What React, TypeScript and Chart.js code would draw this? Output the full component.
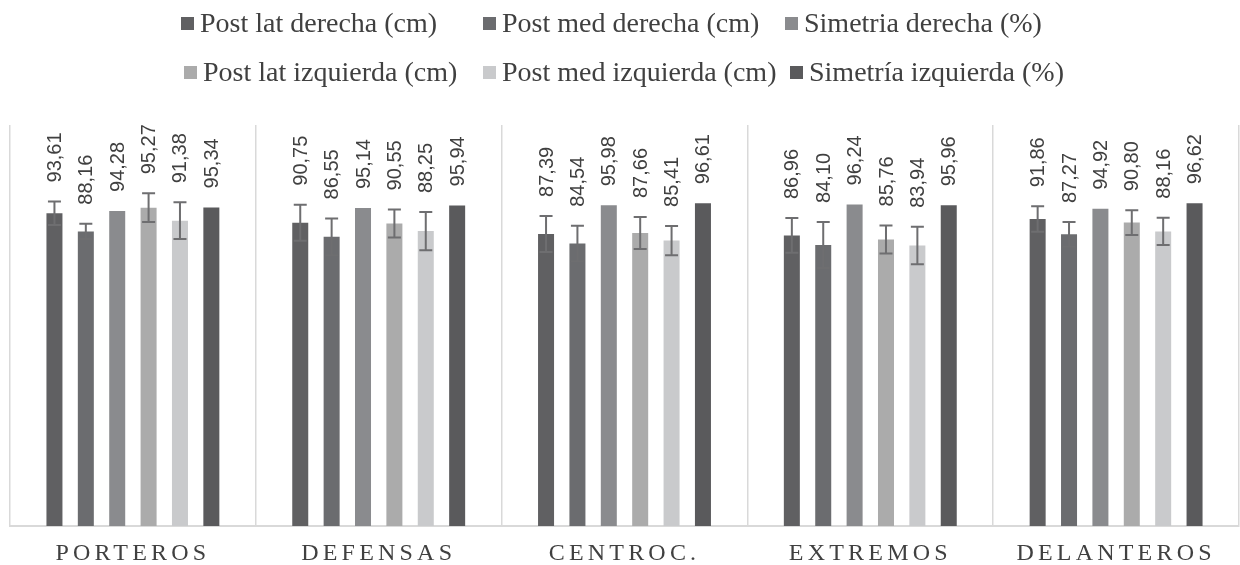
import React, { useEffect, useRef } from 'react';
import { Chart, registerables } from 'chart.js';

Chart.register(...registerables);

const categories = ['PORTEROS', 'DEFENSAS', 'CENTROC.', 'EXTREMOS', 'DELANTEROS'];
const seriesNames = [
  'Post lat derecha (cm)',
  'Post med derecha (cm)',
  'Simetria derecha (%)',
  'Post lat izquierda (cm)',
  'Post med izquierda (cm)',
  'Simetría izquierda (%)',
];
const seriesColors = ['#606062', '#6b6c6f', '#8a8b8e', '#ababab', '#c9cacc', '#5a5a5c'];

const postLatDerecha = [93.61, 90.75, 87.39, 86.96, 91.86];
const postMedDerecha = [88.16, 86.55, 84.54, 84.1, 87.27];
const simetriaDerecha = [94.28, 95.14, 95.98, 96.24, 94.92];
const postLatIzquierda = [95.27, 90.55, 87.66, 85.76, 90.8];
const postMedIzquierda = [91.38, 88.25, 85.41, 83.94, 88.16];
const simetriaIzquierda = [95.34, 95.94, 96.61, 95.96, 96.62];

const errPostLatDerecha = [3.5, 5.4, 5.4, 5.2, 3.8];
const errPostMedDerecha = [2.3, 5.5, 5.3, 6.9, 3.7];
const errPostLatIzquierda = [4.3, 4.2, 4.8, 4.2, 3.7];
const errPostMedIzquierda = [5.5, 5.7, 4.4, 5.6, 4.1];

const seriesValues = [postLatDerecha, postMedDerecha, simetriaDerecha, postLatIzquierda, postMedIzquierda, simetriaIzquierda];
const seriesErrors: (number[] | null)[] = [errPostLatDerecha, errPostMedDerecha, null, errPostLatIzquierda, errPostMedIzquierda, null];

const letterSpacingPlugin = {
  id: 'letterSpacingTicks',
  beforeDraw(chart: any) {
    chart.ctx.letterSpacing = '4.2px';
  },
  beforeDatasetsDraw(chart: any) {
    chart.ctx.letterSpacing = '0px';
  },
};

const errorBarsPlugin = {
  id: 'errorBars',
  afterDatasetsDraw(chart: any) {
    const ctx = chart.ctx;
    const y = chart.scales.y;
    ctx.save();
    ctx.letterSpacing = '0px';
    chart.data.datasets.forEach((ds: any, i: number) => {
      const errs = ds.errors;
      const meta = chart.getDatasetMeta(i);
      meta.data.forEach((el: any, j: number) => {
        const v = ds.data[j];
        let top = el.y;
        if (errs) {
          const e = errs[j];
          const yt = y.getPixelForValue(v + e);
          const yb = y.getPixelForValue(v - e);
          ctx.strokeStyle = '#6e6e70';
          ctx.lineWidth = 2;
          ctx.beginPath();
          ctx.moveTo(el.x, yt);
          ctx.lineTo(el.x, yb);
          ctx.moveTo(el.x - 6.5, yt);
          ctx.lineTo(el.x + 6.5, yt);
          ctx.moveTo(el.x - 6.5, yb);
          ctx.lineTo(el.x + 6.5, yb);
          ctx.stroke();
          top = Math.min(top, yt);
        }
        ctx.save();
        ctx.translate(el.x, top - 19);
        ctx.rotate(-Math.PI / 2);
        ctx.font = '20px "Liberation Sans"';
        ctx.fillStyle = '#404040';
        ctx.textAlign = 'left';
        ctx.textBaseline = 'middle';
        ctx.fillText(v.toFixed(2).replace('.', ','), 0, 1);
        ctx.restore();
      });
    });
    ctx.restore();
  },
};

export default function App() {
  const canvasRef = useRef<HTMLCanvasElement | null>(null);

  useEffect(() => {
    if (!canvasRef.current) return;
    const chart = new Chart(canvasRef.current, {
      type: 'bar',
      data: {
        labels: categories,
        datasets: seriesNames.map((name, i) => ({
          label: name,
          data: seriesValues[i],
          errors: seriesErrors[i],
          backgroundColor: seriesColors[i],
          borderWidth: 0,
          categoryPercentage: 0.766,
          barPercentage: 0.51,
        })) as any,
      },
      options: {
        responsive: false,
        animation: false,
        layout: { padding: { top: 125, left: 10, right: 1, bottom: -17 } },
        plugins: {
          legend: { display: false },
          tooltip: { enabled: false },
        },
        scales: {
          x: {
            grid: { color: '#d9d9d9', lineWidth: 1.5, drawTicks: false, offset: true },
            border: { color: '#d9d9d9', width: 2 },
            ticks: {
              color: '#404040',
              padding: 16,
              maxRotation: 0,
              autoSkip: false,
              font: { family: '"Liberation Serif"', size: 24, lineHeight: 1 },
            },
          },
          y: {
            display: false,
            min: 0,
            max: 120,
          },
        },
      },
      plugins: [letterSpacingPlugin, errorBarsPlugin],
    });
    return () => chart.destroy();
  }, []);

  const itemLeft = [181, 483, 785, 184, 483, 790];
  const rowCenter = [23, 72];

  return (
    <div style={{ position: 'absolute', left: 0, top: 0, width: 1240, height: 565, overflow: 'hidden', background: '#fff' }}>
      <canvas ref={canvasRef} width={1240} height={565} style={{ position: 'absolute', left: 0, top: 0 }} />
      {seriesNames.map((name, i) => (
        <div
          key={name}
          style={{
            position: 'absolute',
            left: itemLeft[i],
            top: rowCenter[Math.floor(i / 3)] - 17,
            height: 34,
            display: 'flex',
            alignItems: 'center',
            whiteSpace: 'nowrap',
            fontFamily: '"Liberation Serif"',
            fontSize: 28,
            lineHeight: '34px',
            color: '#404040',
          }}
        >
          <span style={{ display: 'inline-block', width: 13, height: 13, background: seriesColors[i], marginRight: 6, flex: 'none' }} />
          {name}
        </div>
      ))}
    </div>
  );
}
